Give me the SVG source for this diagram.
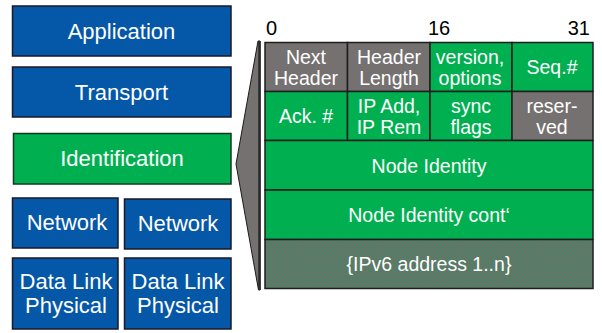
<svg xmlns="http://www.w3.org/2000/svg" width="602" height="333" viewBox="0 0 602 333">
  <style>
    .blue{fill:#0557a7;stroke:#1a1a2a;stroke-width:1.5}
    .green{fill:#00b050;stroke:#0d3a1e;stroke-width:1.5}
    .cellg{fill:#00b050;stroke:#1e1e1e;stroke-width:1.5}
    .cellgr{fill:#767171;stroke:#1e1e1e;stroke-width:1.5}
    .lbl{font-family:"Liberation Sans",Arial,sans-serif;font-size:22px;fill:#ffffff;text-anchor:middle}
    .tl{font-family:"Liberation Sans",Arial,sans-serif;font-size:19.5px;fill:#ffffff;text-anchor:middle}
    .num{font-family:"Liberation Sans",Arial,sans-serif;font-size:20px;fill:#000000}
  </style>
  <defs>
    <pattern id="hatch" width="5" height="5" patternUnits="userSpaceOnUse">
      <rect width="5" height="5" fill="#6f6f6f"/>
      <path d="M0,0 L5,5 M5,0 L0,5" stroke="#1f9a4f" stroke-width="0.7" fill="none"/>
    </pattern>
  </defs>

  <g id="application"><rect class="blue" x="12.5" y="6" width="218.5" height="50"/><text class="lbl" x="121.5" y="39">Application</text></g>
  <g id="transport"><rect class="blue" x="12.5" y="67" width="218.5" height="50"/><text class="lbl" x="121.5" y="100">Transport</text></g>
  <g id="identification"><rect class="green" x="13.5" y="133.5" width="217.5" height="50.5"/><text class="lbl" x="122" y="166">Identification</text></g>
  <g id="network-left"><rect class="blue" x="12.5" y="198" width="105.5" height="50"/><text class="lbl" x="67" y="230">Network</text></g>
  <g id="network-right"><rect class="blue" x="124.5" y="199" width="106.5" height="50"/><text class="lbl" x="178" y="231">Network</text></g>
  <g id="datalink-left"><rect class="blue" x="12.5" y="258" width="105.5" height="71"/><text class="lbl" x="66" y="289">Data Link</text><text class="lbl" x="66" y="313">Physical</text></g>
  <g id="datalink-right"><rect class="blue" x="124.5" y="258" width="106.5" height="71"/><text class="lbl" x="178" y="289">Data Link</text><text class="lbl" x="178" y="313">Physical</text></g>

  <g id="connectors">
    <polygon points="236,164 258,41 260,41 260,290 258.5,290" fill="#767171" stroke="#1a1a1a" stroke-width="1"/>
    <line x1="259.5" y1="41" x2="259.5" y2="290" stroke="#2a2a2a" stroke-width="2.5"/>
  </g>

  <g id="bit-labels">
    <text class="num" x="266" y="35">0</text>
    <text class="num" x="439" y="35" text-anchor="middle">16</text>
    <text class="num" x="590" y="35" text-anchor="end">31</text>
  </g>

  <g id="next-header"><rect class="cellgr" x="265" y="42.5" width="82.5" height="49"/><text class="tl" x="306" y="63.5">Next</text><text class="tl" x="306" y="85">Header</text></g>
  <g id="header-length"><rect class="cellgr" x="347.5" y="42.5" width="82.5" height="49"/><text class="tl" x="389" y="63.5">Header</text><text class="tl" x="389" y="85">Length</text></g>
  <g id="version-options"><rect class="cellg" x="430" y="42.5" width="82" height="49"/><text class="tl" x="470" y="63.5">version,</text><text class="tl" x="470" y="85">options</text></g>
  <g id="seq"><rect class="cellg" x="512" y="42.5" width="81" height="49"/><text class="tl" x="552" y="74">Seq.#</text></g>

  <g id="ack"><rect class="cellg" x="265" y="91.5" width="82.5" height="49"/><text class="tl" x="306" y="123">Ack. #</text></g>
  <g id="ip-add"><rect class="cellg" x="347.5" y="91.5" width="82.5" height="49"/><text class="tl" x="389" y="112.5">IP Add,</text><text class="tl" x="389" y="134">IP Rem</text></g>
  <g id="sync-flags"><rect class="cellg" x="430" y="91.5" width="82" height="49"/><text class="tl" x="471" y="112.5">sync</text><text class="tl" x="471" y="134">flags</text></g>
  <g id="reserved"><rect class="cellgr" x="512" y="91.5" width="81" height="49"/><text class="tl" x="552" y="112.5">reser-</text><text class="tl" x="552" y="134">ved</text></g>

  <g id="node-identity"><rect class="cellg" x="265" y="140.5" width="328" height="49.5"/><text class="tl" x="429" y="172.5">Node Identity</text></g>
  <g id="node-identity-cont"><rect class="cellg" x="265" y="190" width="328" height="49.5"/><text class="tl" x="429" y="222">Node Identity cont‘</text></g>
  <g id="ipv6-address"><rect x="265" y="239.5" width="328" height="49" fill="url(#hatch)" stroke="#1e1e1e" stroke-width="1.5"/><text class="tl" x="429" y="270.5">{IPv6 address 1..n}</text></g>
</svg>
